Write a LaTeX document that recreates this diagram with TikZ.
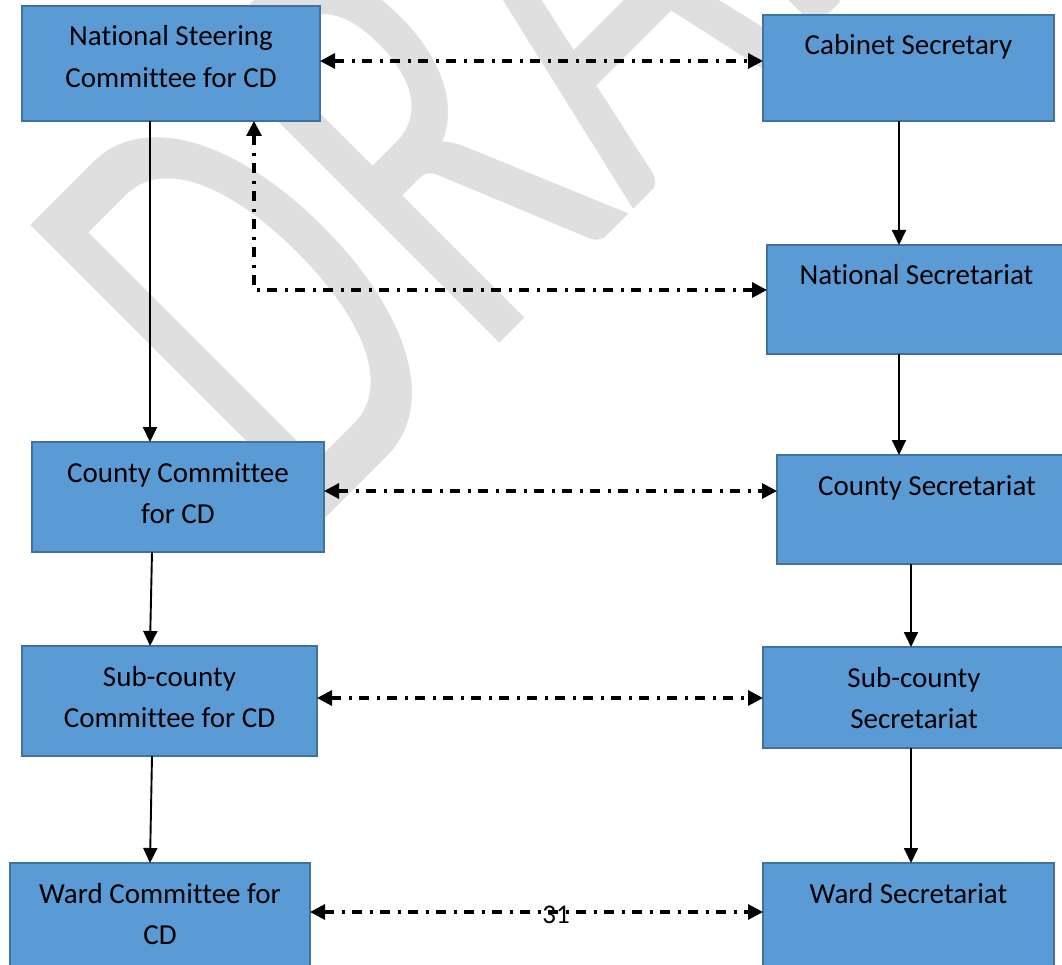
\documentclass[tikz,border=0pt]{standalone}
\usepackage{fontspec}
\setmainfont{Carlito}[Ligatures={NoCommon}]
\usetikzlibrary{arrows.meta}
\definecolor{boxfill}{HTML}{5B9BD5}
\definecolor{boxline}{HTML}{41719C}
\definecolor{wmgray}{HTML}{DFDFDF}
\newcommand{\bxt}[3]{\parbox[t][#2pt][t]{#1pt}{\centering\fontsize{29}{41.5}\selectfont\rule{0pt}{40pt}#3}}
\tikzset{
  orgbox/.style={draw=boxline, fill=boxfill, line width=2.2pt, inner sep=0pt, outer sep=0pt, anchor=north west},
  solidarr/.style={line width=1.9pt, -{Triangle[length=15pt,width=14pt]}},
  dasharr/.style={line width=3.1pt, dash pattern=on 10pt off 7.5pt on 3pt off 7.5pt,
    {Triangle[length=15pt,width=15pt]}-{Triangle[length=15pt,width=15pt]}},
  wmark/.style={font=\fontsize{100}{100}\selectfont, text=wmgray, inner sep=0pt, outer sep=0pt,
    anchor=base west, cm={2.83,2.83,-4.582,4.582,(0,0)}},
  pagenum/.style={font=\fontsize{27}{27}\selectfont, inner sep=0pt, anchor=base}
}
\begin{document}
\begin{tikzpicture}[x=1pt,y=-1pt]
\useasboundingbox (0,0) rectangle (1062,965);
\clip (0,0) rectangle (1062,965);
\fill[white] (0,0) rectangle (1062,965);
% watermark
\node[wmark] (wm) at (305,538) {DRAFT};
% boxes
\node[orgbox] (nsc)  at (22,6)    {\bxt{298}{115}{National Steering\\Committee for CD}};
\node[orgbox] (cab)  at (763,15)  {\bxt{291}{106}{Cabinet Secretary}};
\node[orgbox] (nsec) at (767,245) {\bxt{299}{109}{National Secretariat}};
\node[orgbox] (cc)   at (32,442)  {\bxt{292}{110}{County Committee\\for CD}};
\node[orgbox] (csec) at (777,455) {\bxt{300}{109}{County Secretariat}};
\node[orgbox] (scc)  at (22,646)  {\bxt{295}{110}{Sub-county\\Committee for CD}};
\node[orgbox] (ssec) at (763,647) {\bxt{302}{101}{Sub-county\\Secretariat}};
\node[orgbox] (wc)   at (10,863)  {\bxt{300}{112}{Ward Committee for\\CD}};
\node[orgbox] (wsec) at (763,863) {\bxt{291}{112}{Ward Secretariat}};
% solid connectors
\draw[solidarr] ([xshift=128pt]nsc.south west) -- ([xshift=118pt]cc.north west);
\draw[solidarr] ([xshift=120pt]cc.south west) -- ([xshift=128pt]scc.north west);
\draw[solidarr] ([xshift=130pt]scc.south west) -- ([xshift=140pt]wc.north west);
\draw[solidarr] ([xshift=136pt]cab.south west) -- ([xshift=132pt]nsec.north west);
\draw[solidarr] ([xshift=132pt]nsec.south west) -- ([xshift=122pt]csec.north west);
\draw[solidarr] ([xshift=134pt]csec.south west) -- ([xshift=148pt]ssec.north west);
\draw[solidarr] ([xshift=148pt]ssec.south west) -- ([xshift=148pt]wsec.north west);
% dash-dot connectors
\draw[dasharr] ([yshift=-55pt]nsc.north east) -- ([yshift=-46pt]cab.north west);
\draw[dasharr] ([xshift=232pt]nsc.south west) |- ([yshift=-45pt]nsec.north west);
\draw[dasharr] ([yshift=-49pt]cc.north east) -- ([yshift=-36pt]csec.north west);
\draw[dasharr] ([yshift=-52pt]scc.north east) -- ([yshift=-51pt]ssec.north west);
\draw[dasharr] ([yshift=-49pt]wc.north east) -- ([yshift=-49pt]wsec.north west);
% page number
\node[pagenum] (pg) at (556,923) {31};
\end{tikzpicture}
\end{document}
